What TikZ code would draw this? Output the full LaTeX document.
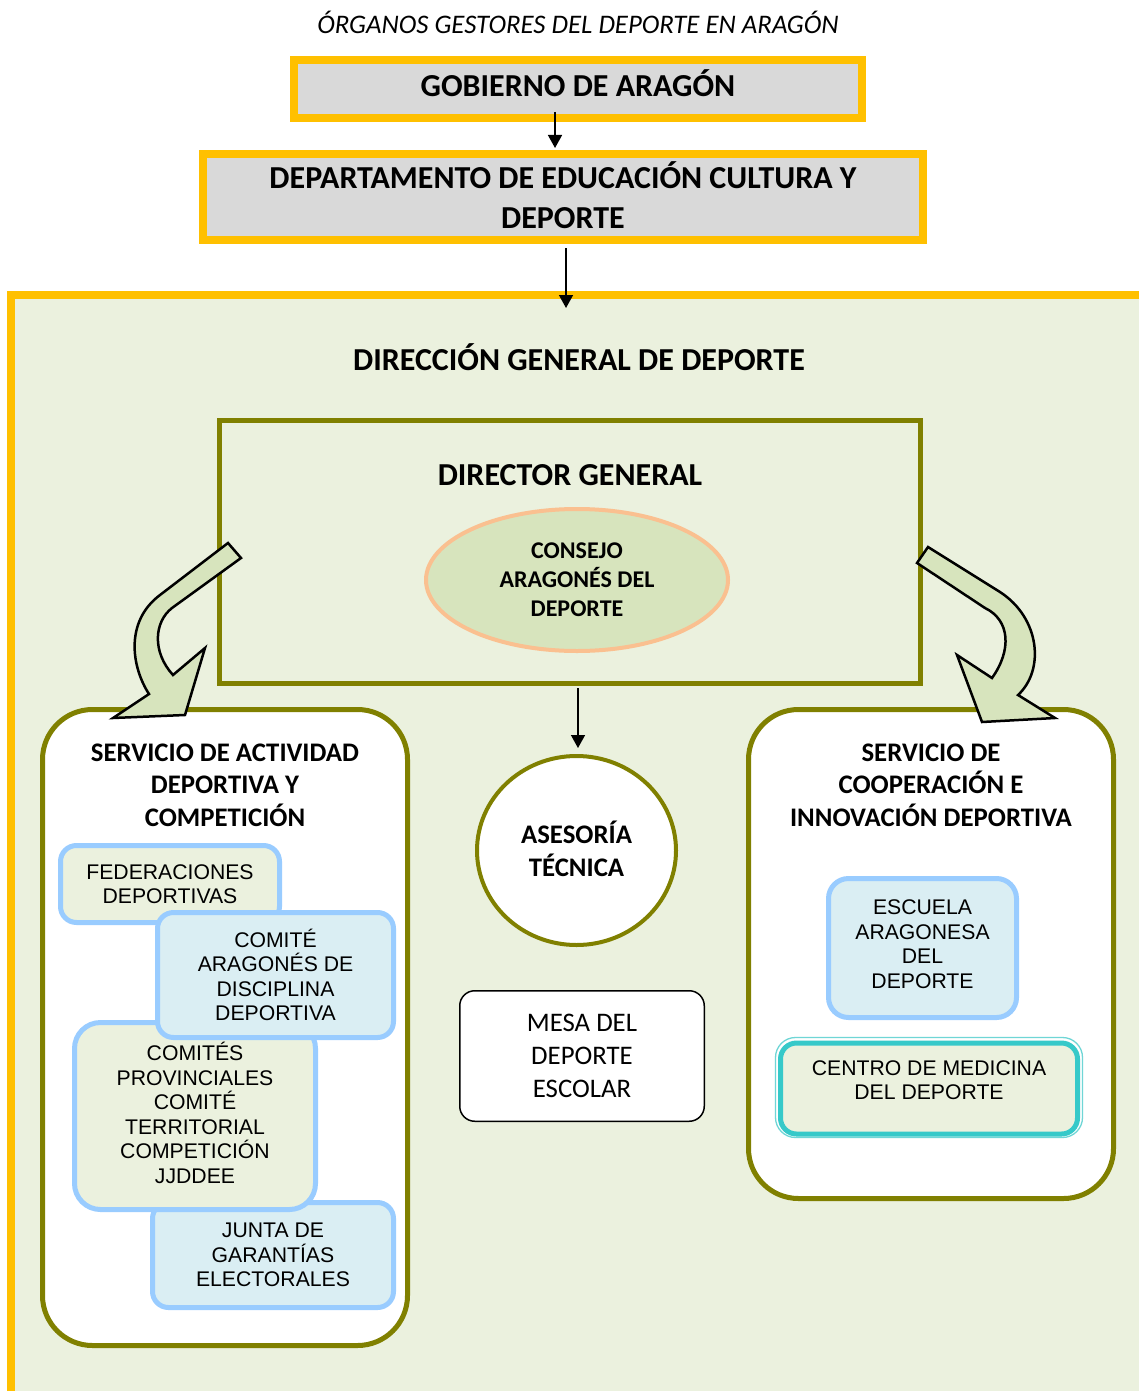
\documentclass[tikz,border=0pt]{standalone}
\usepackage{fontspec}
\setmainfont{Carlito}
\newfontfamily\arialfont{Liberation Sans}
\usetikzlibrary{arrows.meta,shapes.geometric}

\definecolor{gold}{HTML}{FFC000}
\definecolor{govgray}{HTML}{D9D9D9}
\definecolor{olive}{HTML}{808000}
\definecolor{paleg}{HTML}{EBF1DE}
\definecolor{sage}{HTML}{D7E4BD}
\definecolor{peach}{HTML}{FAC090}
\definecolor{skyline}{HTML}{99CCFF}
\definecolor{icefill}{HTML}{DAEEF3}
\definecolor{teal}{HTML}{36C9C9}
\definecolor{tealpale}{HTML}{6FD6D6}

\tikzset{
  govbox/.style={draw=gold, line width=8pt, fill=govgray, inner sep=0pt, align=center,
    font=\fontsize{32}{40}\selectfont\bfseries},
  heading/.style={align=center, inner sep=0pt, font=\fontsize{32}{38}\selectfont\bfseries},
  svctitle/.style={align=center, inner sep=0pt, font=\fontsize{26.8}{32.5}\selectfont\bfseries},
  dirbox/.style={draw=olive, line width=5pt, fill=paleg, inner sep=0pt},
  svcbox/.style={draw=olive, line width=5pt, fill=white, rounded corners=50pt, inner sep=0pt},
  unitbox/.style={draw=skyline, line width=5pt, rounded corners=16pt, inner sep=0pt, align=center,
    font=\arialfont\fontsize{21.2}{24.5}\selectfont},
  greenunit/.style={unitbox, fill=paleg},
  blueunit/.style={unitbox, fill=icefill},
  link/.style={-{Triangle[length=13pt,width=14pt]}, line width=1.5pt, black},
  bentarrow/.style={draw=black, line width=2.5pt, fill=sage, line join=miter},
}

\begin{document}
\begin{tikzpicture}[x=1pt,y=-1pt]
\useasboundingbox (0,0) rectangle (1139,1391);
\clip (0,0) rectangle (1139,1391);
\fill[white] (0,0) rectangle (1139,1391);

% caption
\node (caption) at (578,22) {\fontsize{26.8}{30}\selectfont\itshape ÓRGANOS GESTORES DEL DEPORTE EN ARAGÓN};

% government and department
\node[govbox, minimum width=568pt, minimum height=58pt] (gob) at (578,89) {};
\node[inner sep=0pt, font=\fontsize{32}{40}\selectfont\bfseries] (gobtext) at (578,83) {GOBIERNO DE ARAGÓN};
\node[govbox, minimum width=720pt, minimum height=86pt] (dep) at (563,197) {};
\node[inner sep=0pt, align=center, font=\fontsize{32}{40}\selectfont\bfseries] (deptext) at (563,195)
  {DEPARTAMENTO DE EDUCACIÓN CULTURA Y\\DEPORTE};

% directorate general area
\node[draw=gold, line width=8pt, fill=paleg, minimum width=1160pt, minimum height=1140pt,
  inner sep=0pt] (dg) at (591,865) {};
\node[heading] (dgtitle) at (579,357) {DIRECCIÓN GENERAL DE DEPORTE};

\coordinate (gobout) at (555,112);
\coordinate (depin) at (555,148);
\draw[link] (gobout) -- (depin);
\coordinate (depout) at (566,248);
\coordinate (dgin) at (566,308);
\draw[link] (depout) -- (dgin);

% director general
\node[dirbox, minimum width=701pt, minimum height=263pt] (dir) at (570,552) {};
\node[heading] (dirtitle) at (570,475) {DIRECTOR GENERAL};
\node[ellipse, draw=peach, line width=4pt, fill=sage, minimum width=302pt, minimum height=142pt,
  inner sep=0pt, align=center, font=\fontsize{24}{29}\selectfont\bfseries] (consejo) at (577,580)
  {CONSEJO\\ARAGONÉS DEL\\DEPORTE};

% services
\node[svcbox, minimum width=365pt, minimum height=636pt] (sad) at (225,1027.5) {};
\node[svctitle] (sadtitle) at (225,785) {SERVICIO DE ACTIVIDAD\\DEPORTIVA Y\\COMPETICIÓN};
\node[svcbox, minimum width=365pt, minimum height=489pt] (sci) at (931,954) {};
\node[svctitle] (scititle) at (931,785) {SERVICIO DE\\COOPERACIÓN E\\INNOVACIÓN DEPORTIVA};

% units of the sports activity service
\node[greenunit, minimum width=219pt, minimum height=77pt] (fed) at (170,884)
  {FEDERACIONES\\DEPORTIVAS};
\node[blueunit, minimum width=241pt, minimum height=105pt] (junta) at (273,1255)
  {JUNTA DE\\GARANTÍAS\\ELECTORALES};
\node[greenunit, rounded corners=26pt, minimum width=241pt, minimum height=187pt] (prov) at (195,1116) {};
\node[align=center, inner sep=0pt, font=\arialfont\fontsize{21.2}{24.5}\selectfont] (provtext) at (195,1113)
  {COMITÉS\\PROVINCIALES\\COMITÉ\\TERRITORIAL\\COMPETICIÓN\\JJDDEE};
\node[blueunit, minimum width=236pt, minimum height=125pt] (disc) at (275.5,975)
  {COMITÉ\\ARAGONÉS DE\\DISCIPLINA\\DEPORTIVA};

% units of the cooperation service
\node[blueunit, rounded corners=20pt, minimum width=188pt, minimum height=139pt] (escuela) at (922.5,948) {};
\node[align=center, inner sep=0pt, font=\arialfont\fontsize{21.2}{24.5}\selectfont] (escuelatext) at (922.5,944)
  {ESCUELA\\ARAGONESA\\DEL\\DEPORTE};
\draw[tealpale, line width=1.3pt, rounded corners=20pt] (775.5,1037.5) rectangle (1082.5,1137.5);
\node[draw=teal, line width=5pt, fill=paleg, rounded corners=16pt, minimum width=297pt,
  minimum height=91pt, inner sep=0pt] (medicina) at (929,1088.5) {};
\node[align=center, inner sep=0pt, font=\arialfont\fontsize{21.2}{24.5}\selectfont] (medtext) at (929,1080)
  {CENTRO DE MEDICINA\\DEL DEPORTE};

% technical advice and school sport table
\node[ellipse, draw=olive, line width=4pt, fill=white, minimum width=199pt, minimum height=189pt,
  inner sep=0pt] (ase) at (576.5,850.5) {};
\node[align=center, inner sep=0pt, font=\fontsize{26.8}{33}\selectfont\bfseries] (asetext) at (576.5,849)
  {ASESORÍA\\TÉCNICA};
\coordinate (dirout) at (578,688);
\draw[link, shorten >=6pt] (dirout) -- (dirout |- ase.north);
\node[draw=black, line width=1.5pt, fill=white, rounded corners=15pt, minimum width=244.5pt,
  minimum height=130.5pt, inner sep=0pt, align=center, font=\fontsize{26.8}{33}\selectfont] (mesa) at (582,1056)
  {MESA DEL\\DEPORTE\\ESCOLAR};

% bent arrows from the director towards both services
\path[bentarrow] (228,543) -- (241,558) -- (172,608)
  .. controls (154,622) and (152,652) .. (173,675)
  -- (205,648) -- (185,715) -- (113,718) -- (149,694)
  .. controls (132,668) and (124,622) .. (160,595) -- cycle;
\path[bentarrow] (917,563) -- (928,547) -- (1000,592)
  .. controls (1040,618) and (1045,670) .. (1018,695)
  -- (1055,718) -- (982,722) -- (957,655) -- (992,678)
  .. controls (1012,650) and (1010,620) .. (985,608) -- cycle;
\end{tikzpicture}
\end{document}
